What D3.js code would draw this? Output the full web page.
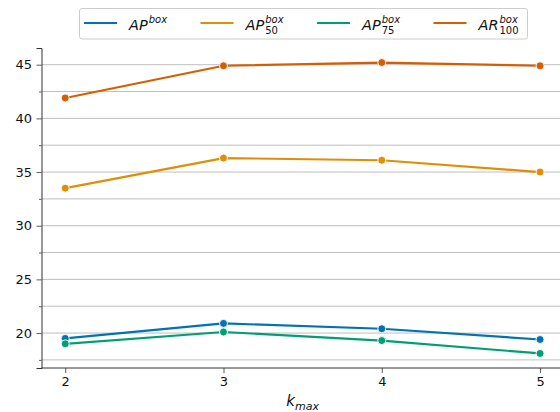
<!DOCTYPE html>
<html><head><meta charset="utf-8">
<script src="https://cdn.jsdelivr.net/npm/d3@7"></script>
<style>body{margin:0;background:#fff}svg{display:block;font-family:"DejaVu Sans",sans-serif}</style>
</head><body><svg id="c" width="560" height="412"></svg>
<script>
const kmax = [2, 3, 4, 5];
const AP = [19.5, 20.9, 20.4, 19.4];
const AP50 = [33.5, 36.3, 36.1, 35.0];
const AP75 = [19.0, 20.1, 19.3, 18.1];
const AR100 = [41.9, 44.9, 45.2, 44.9];
const seriesNames = [["AP","box",""],["AP","box","50"],["AP","box","75"],["AR","box","100"]];
const colors = ["#0173b2","#de8f05","#029e73","#d55e00"];
const yTicks = [20, 25, 30, 35, 40, 45];
const yMinor = [17.5, 22.5, 27.5, 32.5, 37.5, 42.5];

const series = [AP, AP50, AP75, AR100];
const svg = d3.select("#c");
const x = d3.scaleLinear().domain([1.85, 5.15]).range([41.5, 563.8]);
const y = d3.scaleLinear().domain([16.745, 46.555]).range([368, 48]);

// grid
svg.append("g").selectAll("line").data(yTicks.concat(yMinor)).join("line")
  .attr("x1", x(1.85)).attr("x2", 560).attr("y1", d => y(d)).attr("y2", d => y(d))
  .attr("stroke", "#b0b0b0").attr("stroke-width", 1).attr("opacity", 0.8);

// axes
const ya = svg.append("g").attr("transform", `translate(${x(1.85)},0)`)
  .call(d3.axisLeft(y).tickValues(yTicks).tickSize(5).tickPadding(4.5));
svg.append("g").attr("transform", `translate(${x(1.85)},0)`)
  .call(d3.axisLeft(y).tickValues(yMinor).tickSize(2.5).tickFormat(""))
  .call(g => g.select(".domain").remove())
  .call(g => g.selectAll("line").attr("stroke", "#333").attr("stroke-width", 0.8));
const xa = svg.append("g").attr("transform", `translate(0,${y(16.745)})`)
  .call(d3.axisBottom(x).tickValues(kmax).tickSize(5).tickPadding(4).tickFormat(d3.format("d")));
xa.select(".domain").attr("d", `M${x(1.85)},0H560`);
[ya, xa].forEach(g => {
  g.selectAll("text").attr("font-size", 13).attr("fill", "#111").attr("font-family", "DejaVu Sans");
  g.selectAll("line").attr("stroke", "#333").attr("stroke-width", 0.8);
  g.select(".domain").attr("stroke", "#333").attr("stroke-width", 1);
});

// x label
const xl = svg.append("text").attr("x", x(3.5)).attr("y", 406).attr("text-anchor", "middle")
  .attr("font-size", 15).attr("fill", "#111");
xl.append("tspan").attr("font-style", "italic").text("k");
xl.append("tspan").attr("font-style", "italic").attr("font-size", 11).attr("dy", 3.5).text("max");

// lines
const line = d3.line().x((d, i) => x(kmax[i])).y(d => y(d));
series.forEach((s, si) => {
  svg.append("path").datum(s).attr("d", line).attr("fill", "none")
    .attr("stroke", colors[si]).attr("stroke-width", 2.2).attr("stroke-linecap", "round");
  svg.append("g").selectAll("circle").data(s).join("circle")
    .attr("cx", (d, i) => x(kmax[i])).attr("cy", d => y(d)).attr("r", 4)
    .attr("fill", colors[si]).attr("stroke", "#fff").attr("stroke-width", 0.9);
});

// legend
const lg = svg.append("g");
lg.append("rect").attr("x", 79.5).attr("y", 8.5).attr("width", 448).attr("height", 30.5)
  .attr("rx", 2.5).attr("fill", "#fff").attr("stroke", "#ccc").attr("stroke-width", 1);
const lx = [84, 200.5, 317, 433.5];
seriesNames.forEach((n, i) => {
  lg.append("line").attr("x1", lx[i]).attr("x2", lx[i] + 33).attr("y1", 23).attr("y2", 23)
    .attr("stroke", colors[i]).attr("stroke-width", 2.2);
  const t = lg.append("text").attr("x", lx[i] + 45).attr("y", 29.5).attr("font-size", 14.5)
    .attr("fill", "#111").attr("font-style", "italic").text(n[0]);
  const w = t.node().getComputedTextLength();
  lg.append("text").attr("x", lx[i] + 45 + w + 1).attr("y", 22.5).attr("font-size", 10)
    .attr("fill", "#111").attr("font-style", "italic").text(n[1]);
  if (n[2]) {
    lg.append("text").attr("x", lx[i] + 45 + w + 1).attr("y", 34).attr("font-size", 10)
      .attr("fill", "#111").text(n[2]);
  }
});
</script></body></html>
